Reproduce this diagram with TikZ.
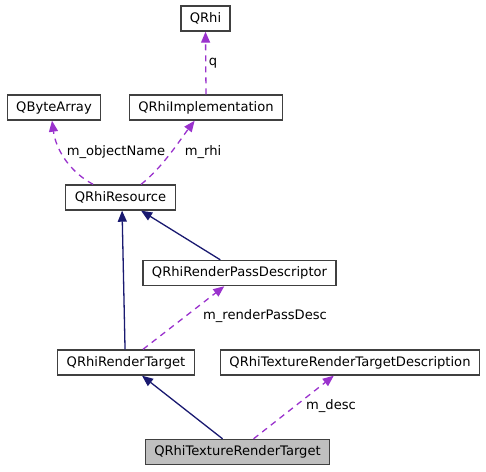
\documentclass[tikz,border=0pt]{standalone}
\usepackage{fontspec}
\setmainfont{DejaVu Sans}
\usetikzlibrary{positioning,arrows.meta}
\definecolor{boxgray}{HTML}{404040}
\definecolor{usepurple}{HTML}{9A32CD}
\definecolor{inhnavy}{HTML}{191970}
\definecolor{focusgray}{HTML}{BFBFBF}
\tikzset{
  classbox/.style={rectangle, draw=boxgray, fill=white, line width=1.4pt, minimum height=25pt, inner xsep=9pt, inner ysep=0pt, font=\fontsize{13.1}{15}\selectfont},
  focusbox/.style={classbox, fill=focusgray},
  inherits/.style={draw=inhnavy, line width=1.3pt, -{Triangle[length=11pt,width=9pt,fill=inhnavy]}},
  uses/.style={draw=usepurple, line width=1.3pt, dash pattern=on 6pt off 5pt, -{Triangle[length=11pt,width=9pt,fill=usepurple]}},
  edgelabel/.style={font=\fontsize{13.1}{15}\selectfont, inner sep=0pt}
}
\begin{document}
\begin{tikzpicture}[x=1pt, y=-1pt]
    \useasboundingbox (0,0) rectangle (486,471);
    % Classes
    \node[classbox] (qrhi) at (205.5,18.5) {QRhi};
    \node[classbox] (bytearray) at (54,107.5) {QByteArray};
    \node[classbox] (impl) at (206,107.5) {QRhiImplementation};
    \node[classbox] (resource) at (120.5,197.5) {QRhiResource};
    \node[classbox] (passdesc) at (239.5,273) {QRhiRenderPassDescriptor};
    \node[classbox] (target) at (126,362.5) {QRhiRenderTarget};
    \node[classbox] (texdesc) at (350,362.5) {QRhiTextureRenderTargetDescription};
    \node[focusbox] (texrt) at (237.5,452) {QRhiTextureRenderTarget};

    % Inheritance
    \draw[inherits] ([xshift=78pt]passdesc.north west) -- ([xshift=76pt]resource.south west);
    \draw[inherits] ([xshift=68pt]target.north west) -- ([xshift=57pt]resource.south west);
    \draw[inherits] ([xshift=78pt]texrt.north west) -- ([xshift=85pt]target.south west);

    % Members
    \draw[uses] (impl.north) -- (qrhi.south);
    \draw[uses] ([xshift=28pt]resource.north west) .. controls (70,172) and (56,150) .. ([xshift=-2pt]bytearray.south);
    \draw[uses] ([xshift=76pt]resource.north west) .. controls (162,168) and (180,140) .. ([xshift=66pt]impl.south west);
    \draw[uses] ([xshift=86pt]target.north west) -- ([xshift=82pt]passdesc.south west);
    \draw[uses] ([xshift=109pt]texrt.north west) -- ([xshift=114pt]texdesc.south west);

    % Member names
    \node[edgelabel] (lq) at (213,63) {q};
    \node[edgelabel] (lobjname) at (116,152) {m\_objectName};
    \node[edgelabel] (lrhi) at (203,152) {m\_rhi};
    \node[edgelabel] (lpassdesc) at (265,316) {m\_renderPassDesc};
    \node[edgelabel] (ldesc) at (331,406) {m\_desc};
\end{tikzpicture}
\end{document}
